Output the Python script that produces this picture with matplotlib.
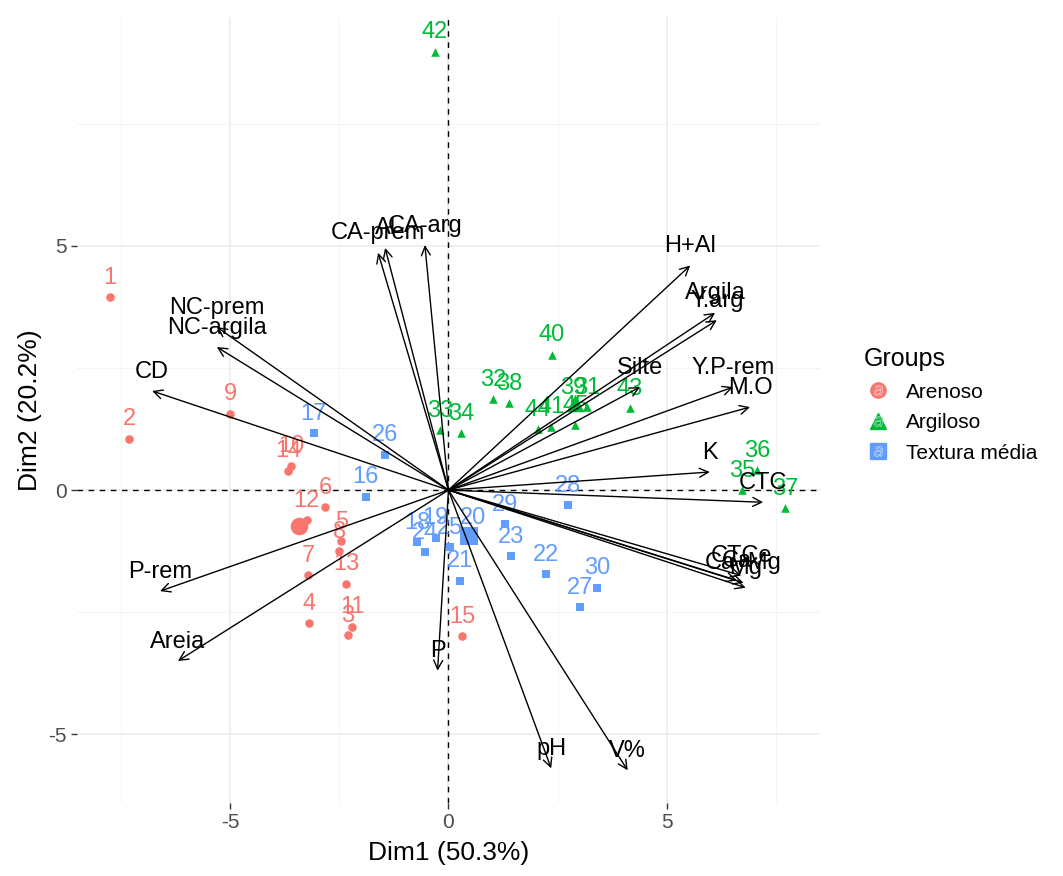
import numpy as np
import matplotlib
matplotlib.use("Agg")
import matplotlib.pyplot as plt
from matplotlib.lines import Line2D
from matplotlib.legend_handler import HandlerTuple

plt.rcParams['font.family'] = ['Liberation Sans', 'DejaVu Sans']
plt.rcParams['axes.unicode_minus'] = False

# individual coordinates (Dim1, Dim2) by texture group
ids_aren = [str(i) for i in range(1, 16)]
x_aren = [-7.75, -7.30, -2.30, -3.19, -2.45, -2.82, -3.21, -2.50, -5.00, -3.60, -2.20, -3.24, -2.34, -3.67, 0.31]
y_aren = [3.95, 1.05, -2.97, -2.73, -1.05, -0.35, -1.74, -1.25, 1.56, 0.50, -2.80, -0.62, -1.92, 0.40, -2.99]

ids_text = [str(i) for i in range(16, 31)]
x_text = [-1.89, -3.08, -0.72, -0.29, 0.56, 0.26, 2.23, 1.43, -0.54, 0.03, -1.45, 3.00, 2.73, 1.29, 3.40]
y_text = [-0.14, 1.17, -1.07, -0.98, -0.98, -1.86, -1.72, -1.35, -1.27, -1.17, 0.72, -2.40, -0.31, -0.70, -2.00]

ids_argi = [str(i) for i in range(31, 46)]
x_argi = [3.17, 1.02, -0.19, 0.28, 6.72, 7.06, 7.70, 1.38, 2.85, 2.37, 2.35, -0.31, 4.15, 2.05, 2.90]
y_argi = [1.70, 1.86, 1.23, 1.17, 0.00, 0.41, -0.37, 1.78, 1.70, 2.77, 1.30, 8.98, 1.68, 1.25, 1.33]

# variable arrows
var_names = ['CA-prem', 'Al', 'CA-arg', 'H+Al', 'Argila', 'Y.arg', 'Silte', 'Y.P-rem', 'M.O',
             'K', 'CTC', 'CTCe', 'Ca', 'Ca+Mg', 'Mg', 'V%', 'pH', 'P', 'Areia', 'P-rem',
             'CD', 'NC-argila', 'NC-prem']
var_x = [-1.61, -1.45, -0.54, 5.53, 6.10, 6.14, 4.38, 6.51, 6.90,
         5.98, 7.20, 6.70, 6.60, 6.75, 6.80, 4.10, 2.35, -0.25, -6.19, -6.60,
         -6.78, -5.30, -5.30]
var_y = [4.86, 4.96, 5.02, 4.60, 3.63, 3.48, 2.11, 2.11, 1.70,
         0.37, -0.25, -1.75, -1.85, -1.90, -2.00, -5.74, -5.70, -3.70, -3.50, -2.07,
         2.03, 2.93, 3.34]

groups = ['Arenoso', 'Argiloso', 'Textura média']
colors = {'Arenoso': '#F8766D', 'Argiloso': '#00BA38', 'Textura média': '#619CFF'}
markers = {'Arenoso': 'o', 'Argiloso': '^', 'Textura média': 's'}
data = {'Arenoso': (ids_aren, x_aren, y_aren),
        'Argiloso': (ids_argi, x_argi, y_argi),
        'Textura média': (ids_text, x_text, y_text)}

fig = plt.figure(figsize=(10.63, 8.76), dpi=100)
ax = fig.add_axes([0.0724, 0.0833, 0.699, 0.8973])
ax.set_xlim(-8.5, 8.5)
ax.set_ylim(-6.41, 9.69)

# theme_minimal style grid
for v in [-5, 0, 5]:
    ax.axvline(v, color='#EBEBEB', lw=1.1, zorder=0)
    ax.axhline(v, color='#EBEBEB', lw=1.1, zorder=0)
for v in [-7.5, -2.5, 2.5, 7.5]:
    ax.axvline(v, color='#F2F2F2', lw=0.6, zorder=0)
    ax.axhline(v, color='#F2F2F2', lw=0.6, zorder=0)
for s in ax.spines.values():
    s.set_visible(False)

ax.axhline(0, color='black', lw=1, ls=(0, (4, 4)), zorder=1)
ax.axvline(0, color='black', lw=1, ls=(0, (4, 4)), zorder=1)

# individuals
for g in groups:
    ids, xs, ys = data[g]
    ax.scatter(xs, ys, marker=markers[g], s=38, color=colors[g], lw=0, zorder=3)
    for lab, xv, yv in zip(ids, xs, ys):
        ax.annotate(lab, (xv, yv), xytext=(0, 14), textcoords='offset points',
                    ha='center', va='center', fontsize=17, color=colors[g], zorder=3)
    # group mean point
    ax.scatter([np.mean(xs)], [np.mean(ys)], marker=markers[g], s=160,
               color=colors[g], lw=0, zorder=3)

# variables
for name, xv, yv in zip(var_names, var_x, var_y):
    ax.annotate('', xy=(xv, yv), xytext=(0, 0),
                arrowprops=dict(arrowstyle='->', color='black', lw=1.0,
                                shrinkA=0, shrinkB=0, mutation_scale=16), zorder=4)
    ax.annotate(name, (xv, yv), xytext=(0, 14), textcoords='offset points',
                ha='center', va='center', fontsize=17, color='black', zorder=4)

ax.set_xticks([-5, 0, 5])
ax.set_yticks([-5, 0, 5])
ax.tick_params(length=4, width=1, color='#333333', labelsize=15, labelcolor='#4D4D4D')
ax.set_xlabel('Dim1 (50.3%)', fontsize=19, labelpad=6)
ax.set_ylabel('Dim2 (20.2%)', fontsize=19, labelpad=4)

# legend keys: point with the text key "a" drawn over it
handles = [(Line2D([], [], marker=markers[g], color=colors[g], ls='', markersize=11),
            Line2D([], [], marker='$a$', color=colors[g], ls='', markersize=7,
                   markeredgewidth=0.3, markeredgecolor='white'))
           for g in groups]
leg = fig.legend(handles, groups, loc='upper left', bbox_to_anchor=(0.795, 0.625),
                 frameon=False, title='Groups', fontsize=15, title_fontsize=18,
                 handletextpad=0.6, labelspacing=0.55, handlelength=1.4,
                 handler_map={tuple: HandlerTuple(ndivide=1)})
leg._legend_box.align = 'left'

fig.savefig('out.png', dpi=100)
